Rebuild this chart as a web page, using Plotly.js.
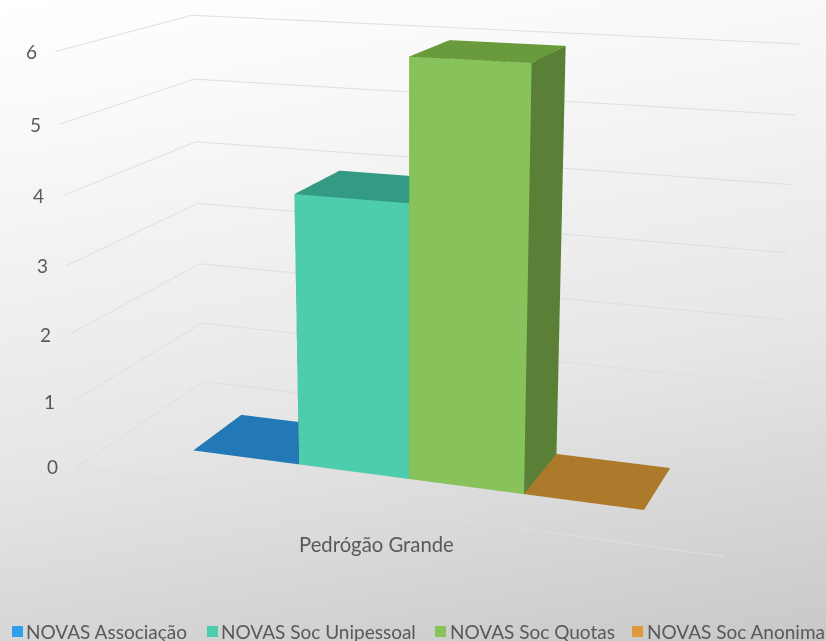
<!DOCTYPE html>
<html>
<head>
<meta charset="utf-8">
<script src="https://cdn.plot.ly/plotly-3.0.1.min.js"></script>
<style>
html,body{margin:0;padding:0;width:826px;height:641px;overflow:hidden;position:relative;
background:linear-gradient(170deg,#ffffff 0%,#f8f8f8 20%,#e6e6e6 60%,#c8c8c8 100%);}
#chart{position:absolute;left:-361px;top:-482px;width:1541px;height:1541px;}
</style>
</head>
<body>
<div id="chart"></div>
<script>
const category = "Pedrógão Grande";
const seriesNames = ["NOVAS Associação","NOVAS Soc Unipessoal","NOVAS Soc Quotas","NOVAS Soc Anonima"];
const seriesValues = [0,4,6,0];
const tickValues = [0,1,2,3,4,5,6];
const tickLabels = ["0","1","2","3","4","5","6"];
const legendColors = ["#2e9fe8","#4dcdac","#89c35a","#dd9a3b"];
const frontColors = ["#2e9fe8","#4dcdac","#88c25b","#dd9a3b"];
const topColors = ["#2379b5","#339a84","#699b3d","#ad7a2c"];
const sideColors = ["#1f6a9e","#2c8572","#5a7f36","#8f6524"];

const W = 1541, H = 1541, offX = 361, offY = 482;
const px = x => (x + offX) / W;
const py = y => 1 - (y + offY) / H;

const xRange = [-0.755, 4.775];
const yRange = [0, 1];
const zRange = [0, 6];
const depth = [0.285, 0.69];

const textColor = "#595959";
const fontFamily = "Lato, 'Open Sans', sans-serif";

const traces = seriesNames.map((name, s) => {
  const x0 = s, x1 = s + 1, y0 = depth[0], y1 = depth[1], z1 = seriesValues[s];
  const F = frontColors[s], T = topColors[s], R = sideColors[s];
  return {
    type: "mesh3d", name: name, hoverinfo: "skip", flatshading: true,
    x: [x0,x1,x1,x0,x0,x1,x1,x0],
    y: [y0,y0,y1,y1,y0,y0,y1,y1],
    z: [0,0,0,0,z1,z1,z1,z1],
    i: [0,0,1,1,4,4,3,3,0,0],
    j: [1,5,2,6,5,6,0,4,1,2],
    k: [5,4,6,5,6,7,4,7,2,3],
    facecolor: z1 > 0 ? [F,F,R,R,T,T,R,R,T,T] : [T,T,T,T,T,T,T,T,T,T],
    lighting: {ambient:1,diffuse:0,specular:0,roughness:1,fresnel:0},
    showscale: false
  };
});
traces.push({
  type: "scatter3d", mode: "lines", hoverinfo: "skip", showlegend: false,
  x: xRange, y: [yRange[0], yRange[0]], z: [0, 0],
  line: {color: "#dedede", width: 2}
});

const hiddenAxis = r => ({range:r, visible:false, showgrid:false, zeroline:false, showline:false,
  showticklabels:false, showbackground:false, showspikes:false, title:{text:""}});

const tickAnn = tickValues.map((v, i) => ({
  x: xRange[0], y: yRange[0], z: v, text: tickLabels[i], showarrow: false,
  xanchor: "center", yanchor: "middle", xshift: -24,
  font: {family: fontFamily, size: 19, color: textColor}
}));
tickAnn.push({
  x: 2, y: yRange[0], z: 0, text: category, showarrow: false,
  xanchor: "center", yanchor: "middle", xshift: -3, yshift: -35,
  font: {family: fontFamily, size: 20.3, color: textColor}
});

const legendSquares = [12, 207, 435, 632];
const legendText = [24, 219, 448, 645];
const annotations = seriesNames.map((n, i) => ({
  xref: "paper", yref: "paper", x: px(legendText[i]), y: py(631), text: n, showarrow: false,
  xanchor: "left", yanchor: "middle",
  font: {family: fontFamily, size: 19, color: textColor}
}));
const shapes = seriesNames.map((n, i) => ({
  type: "rect", xref: "paper", yref: "paper", line: {width: 0}, fillcolor: legendColors[i],
  x0: px(legendSquares[i]), x1: px(legendSquares[i] + 11), y0: py(637), y1: py(626)
}));

const layout = {
  width: W, height: H, margin: {l:0,r:0,t:0,b:0},
  paper_bgcolor: "rgba(0,0,0,0)", plot_bgcolor: "rgba(0,0,0,0)",
  showlegend: false, hovermode: false, annotations, shapes,
  scene: {
    domain: {x:[0,1], y:[0,1]},
    bgcolor: "rgba(0,0,0,0)",
    aspectmode: "manual",
    aspectratio: {x:1.055, y:0.467, z:0.676},
    camera: {
      eye: {x:0.942, y:-2.714, z:0.748},
      center: {x:-0.030, y:-0.021, z:-0.046},
      up: {x:0, y:0, z:1},
      projection: {type: "perspective"}
    },
    xaxis: hiddenAxis(xRange),
    yaxis: hiddenAxis(yRange),
    zaxis: {range:zRange, tickvals:tickValues, showgrid:true, gridcolor:"#dedede", gridwidth:2,
      zeroline:false, showline:false, showticklabels:false, showbackground:false, showspikes:false,
      ticks:"", title:{text:""}},
    annotations: tickAnn
  }
};
Plotly.newPlot("chart", traces, layout, {displayModeBar:false});
</script>
</body>
</html>
